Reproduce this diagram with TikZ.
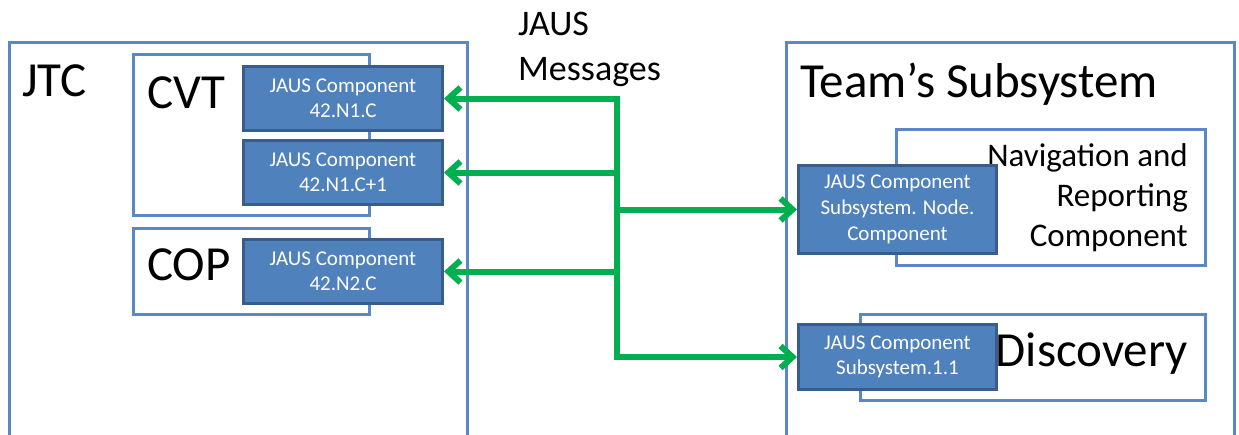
\documentclass[tikz,border=0pt]{standalone}
\usepackage{fontspec}
\setmainfont{Carlito}
\usepackage{xcolor}
\usetikzlibrary{arrows.meta}
\definecolor{frameblue}{HTML}{5A88C6}
\definecolor{compblue}{HTML}{4F81BD}
\definecolor{compedge}{HTML}{385D8A}
\definecolor{msggreen}{HTML}{00B050}

\tikzset{
    container/.style={draw=frameblue, line width=3pt, fill=white, inner sep=0pt, anchor=north west},
    comp/.style={draw=compedge, line width=3pt, fill=compblue, text=white, align=center, inner sep=0pt, anchor=north west, font=\fontsize{21pt}{25pt}\selectfont},
    biglabel/.style={font=\fontsize{49pt}{58pt}\selectfont, inner sep=0pt},
    midlabel/.style={font=\fontsize{33pt}{40pt}\selectfont, inner sep=0pt},
    msg/.style={draw=msggreen, line width=6pt}
}

\begin{document}
\begin{tikzpicture}[x=1pt, y=-1pt, >={Straight Barb[length=12pt,width=22pt]}]
                \path[use as bounding box, fill=white] (0,0) rectangle (1239,434);
                \clip (0,0) rectangle (1239,434);

                \node[container, minimum width=458pt, minimum height=420pt] (jtc) at (8,41) {};
                \node[biglabel, anchor=base west] (jtclabel) at (22,96) {JTC};
                \node[container, minimum width=236pt, minimum height=161pt] (cvt) at (132,53) {};
                \node[biglabel, anchor=base west] (cvtlabel) at (147,108) {CVT};
                \node[container, minimum width=236pt, minimum height=86pt] (cop) at (132,227) {};
                \node[biglabel, anchor=base west] (coplabel) at (147,280) {COP};

                \node[comp, minimum width=199pt, minimum height=64pt] (cvtcomp) at (242,65) {JAUS Component\\42.N1.C};
                \node[comp, minimum width=199pt, minimum height=64pt] (cvtnext) at (242,139) {JAUS Component\\42.N1.C+1};
                \node[comp, minimum width=199pt, minimum height=64pt] (copcomp) at (242,238) {JAUS Component\\42.N2.C};

                \node[container, minimum width=448pt, minimum height=420pt] (team) at (785,41) {};
                \node[biglabel, anchor=base west] (teamlabel) at (800,97) {Team’s Subsystem};
                \node[container, minimum width=309pt, minimum height=136pt] (nav) at (895,128) {};
                \node[midlabel, align=right, anchor=north east] (navlabel) at (1188,143) {Navigation and\\Reporting\\Component};
                \node[container, minimum width=345pt, minimum height=86pt] (disc) at (859,313) {};
                \node[biglabel, anchor=base east] (disclabel) at (1188,366) {Discovery};

                \node[comp, minimum width=198pt, minimum height=88pt, font=\fontsize{21pt}{26pt}\selectfont] (navcomp) at (797,164) {JAUS Component\\Subsystem. Node.\\Component};
                \node[comp, minimum width=198pt, minimum height=65pt] (disccomp) at (797,323) {JAUS Component\\Subsystem.1.1};

                \node[font=\fontsize{36pt}{45pt}\selectfont, inner sep=0pt, align=left, anchor=north west] (msglabel) at (518,12) {JAUS\\Messages};

                \coordinate (bus) at (617,0);
                \draw[msg, <->] (cvtcomp.east) -| (bus |- disccomp.west) -- (disccomp.west);
                \draw[msg, ->] (bus |- cvtnext.east) -- (cvtnext.east);
                \draw[msg, ->] (bus |- copcomp.east) -- (copcomp.east);
                \draw[msg, ->] (bus |- navcomp.west) -- (navcomp.west);
            \end{tikzpicture}
\end{document}
